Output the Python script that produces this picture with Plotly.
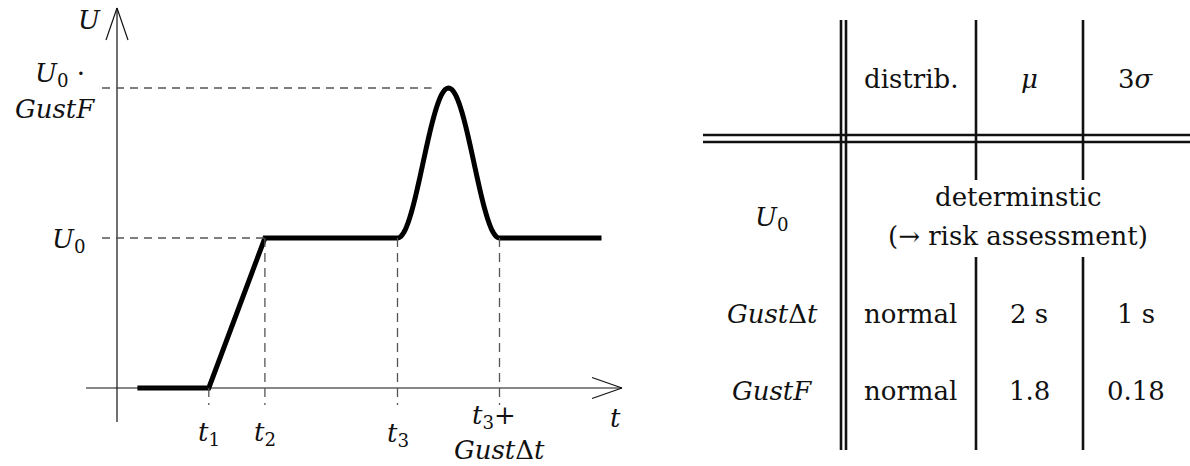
import numpy as np
import plotly.graph_objects as go

# ---- Gust wind-speed profile (time in s, speed in units of U0) ----
t_start = 0.4
t1 = 1.8
t2 = 2.9
t3 = 5.5
gust_dt = 2.0
t_end = 9.5
u0 = 1.0
u_peak = 2.0          # U0 * GustF as sketched

# ---- Parameter table ----
col_headers = ["distrib.", "<i>μ</i>", "3<i>σ</i>"]
row_labels = ["<i>U</i><sub>0</sub>", "<i>Gust</i>Δ<i>t</i>", "<i>GustF</i>"]
u0_note = ["determinstic", "(→ risk assessment)"]
distrib = ["normal", "normal"]
mu = ["2 s", "1.8"]
three_sigma = ["1 s", "0.18"]

# ---- page geometry ----
W, H = 1190, 466
PX_PER_S, PX_PER_U = 51.0, 150.0
X0_PX, Y0_PX = 117.0, 388.0
FONT = "DejaVu Serif"
FS = 26
INK = "#111111"
DASH_C = "#555555"


def dx(px):
    return px / PX_PER_S


def dy(px):
    return px / PX_PER_U


def pxx(x):
    return x / W


def pxy(y):
    return 1 - y / H


# piecewise profile: calm, linear ramp, plateau, 1-cos gust, plateau
tg = np.linspace(t3, t3 + gust_dt, 121)
ug = u0 + (u_peak - u0) * (1 - np.cos(2 * np.pi * (tg - t3) / gust_dt)) / 2
t_curve = np.concatenate([[t_start, t1, t2], tg, [t_end]])
u_curve = np.concatenate([[0, 0, u0], ug, [u0]])

fig = go.Figure()
fig.add_trace(go.Scatter(x=t_curve, y=u_curve, mode="lines",
                         line=dict(color="black", width=5, simplify=False),
                         hoverinfo="skip", showlegend=False))

shapes = []


def seg(x0, y0, x1, y1, color=INK, width=1.2, dash=None, ref="data"):
    d = dict(type="line", x0=x0, y0=y0, x1=x1, y1=y1,
             line=dict(color=color, width=width))
    if dash:
        d["line"]["dash"] = dash
    if ref == "data":
        d.update(xref="x", yref="y")
    else:
        d.update(xref="paper", yref="paper")
    shapes.append(d)


# axes with open arrow heads
x_lo, x_tip = dx(-31), dx(505)
y_lo, y_tip = dy(-34), dy(380)
seg(x_lo, 0, x_tip, 0)
seg(x_tip - dx(30), dy(10.5), x_tip, 0)
seg(x_tip - dx(30), -dy(10.5), x_tip, 0)
seg(0, y_lo, 0, y_tip)
seg(-dx(11), y_tip - dy(32), 0, y_tip)
seg(dx(11), y_tip - dy(32), 0, y_tip)

# dashed guide lines
g_left = dx(-15)
g_bot = -dy(17)
seg(g_left, u_peak, t3 + gust_dt / 2 - dx(17), u_peak, DASH_C, 1.3, "8px,6px")
seg(g_left, u0, t2, u0, DASH_C, 1.3, "8px,6px")
seg(t1, 0, t1, g_bot, DASH_C, 1.3, "9px,6px")
for tv in [t2, t3, t3 + gust_dt]:
    seg(tv, u0, tv, g_bot, DASH_C, 1.3, "9px,6px")

# table rules
TL, TR, TT, TB = 703, 1190, 20, 450
LW = 2.6
for xv in [841, 846]:
    seg(pxx(xv), pxy(TT), pxx(xv), pxy(TB), INK, LW, ref="paper")
for yv in [135, 142]:
    seg(pxx(TL), pxy(yv), pxx(TR), pxy(yv), INK, LW, ref="paper")
for xv in [976, 1083]:
    seg(pxx(xv), pxy(TT), pxx(xv), pxy(180), INK, LW, ref="paper")
    seg(pxx(xv), pxy(257), pxx(xv), pxy(TB), INK, LW, ref="paper")

ann = []


def label(text, x, y, ref="data", xs=0, ys=0):
    a = dict(text=text, x=x, y=y, showarrow=False, xanchor="center",
             yanchor="middle", xshift=xs, yshift=ys,
             font=dict(family=FONT, size=FS, color=INK))
    if ref == "data":
        a.update(xref="x", yref="y")
    else:
        a.update(xref="paper", yref="paper")
    ann.append(a)


# plot labels
label("<i>U</i>", dx(-28), 0, ys=388 - 20)
label("<i>U</i><sub>0</sub> ·", dx(-57), u_peak, ys=14)
label("<i>GustF</i>", dx(-62), u_peak, ys=-21)
label("<i>U</i><sub>0</sub>", dx(-48), u0, ys=-2)
label("<i>t</i>", dx(498), 0, ys=-30)
label("<i>t</i><sub>1</sub>", t1, 0, ys=-45)
label("<i>t</i><sub>2</sub>", t2, 0, ys=-45)
label("<i>t</i><sub>3</sub>", t3, 0, ys=-46)
label("<i>t</i><sub>3</sub>+", t3 + gust_dt, 0, xs=-6, ys=-28)
label("<i>Gust</i>Δ<i>t</i>", t3 + gust_dt, 0, ys=-62)

# table contents
col_x = [772, 911, 1029, 1136]
row_y = [79, 218, 314, 391]
for cx, h in zip(col_x[1:], col_headers):
    label(h, pxx(cx), pxy(row_y[0]), ref="paper")
for ry, r in zip(row_y[1:], row_labels):
    label(r, pxx(col_x[0]), pxy(ry), ref="paper")
label(u0_note[0], pxx(1018), pxy(197), ref="paper")
label(u0_note[1], pxx(1018), pxy(236), ref="paper")
for i in range(2):
    ry = row_y[2 + i]
    label(distrib[i], pxx(col_x[1]), pxy(ry), ref="paper")
    label(mu[i], pxx(col_x[2]), pxy(ry), ref="paper")
    label(three_sigma[i], pxx(col_x[3]), pxy(ry), ref="paper")

fig.update_layout(
    width=W, height=H,
    margin=dict(l=0, r=0, t=0, b=0),
    paper_bgcolor="white", plot_bgcolor="white",
    xaxis=dict(visible=False, range=[-X0_PX / PX_PER_S, (W - X0_PX) / PX_PER_S],
               domain=[0, 1], fixedrange=True),
    yaxis=dict(visible=False, range=[-(H - Y0_PX) / PX_PER_U, Y0_PX / PX_PER_U],
               domain=[0, 1], fixedrange=True),
    shapes=shapes, annotations=ann, showlegend=False,
)

fig.write_html("out.html")
